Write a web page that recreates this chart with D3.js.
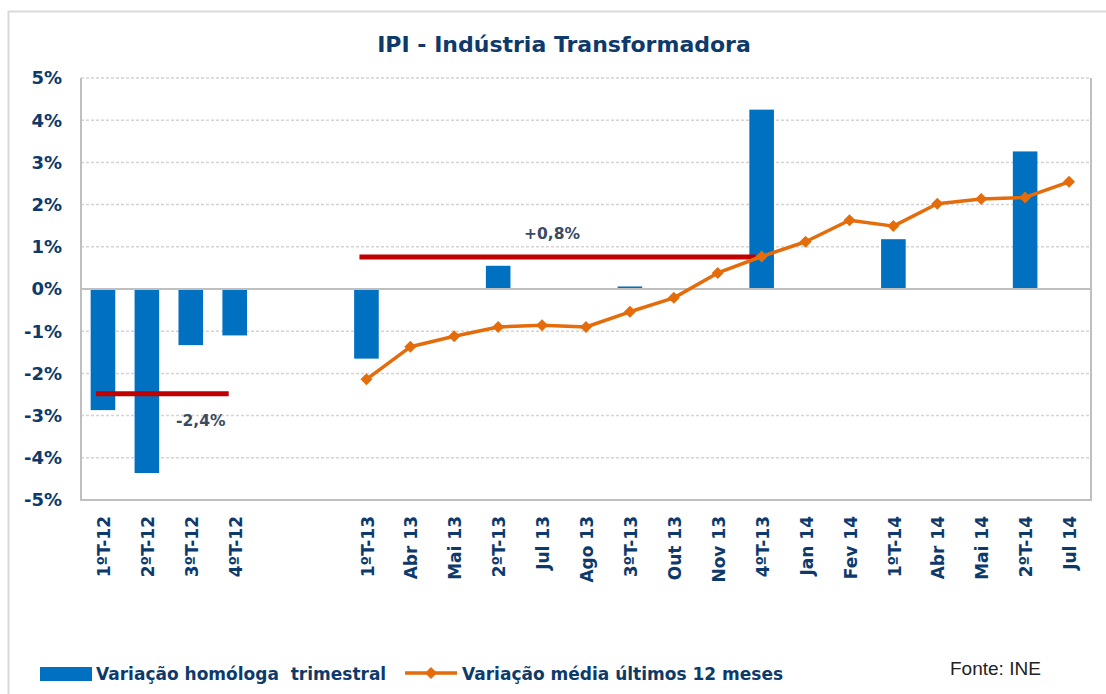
<!DOCTYPE html>
<html><head><meta charset="utf-8">
<script src="https://cdn.jsdelivr.net/npm/d3@7"></script>
<style>body{margin:0;background:#fff}svg{display:block}</style>
</head><body><svg id="c" width="1106" height="694"></svg>
<script>
const categories = ["1ºT-12","2ºT-12","3ºT-12","4ºT-12","","","1ºT-13","Abr 13","Mai 13","2ºT-13","Jul 13","Ago 13","3ºT-13","Out 13","Nov 13","4ºT-13","Jan 14","Fev 14","1ºT-14","Abr 14","Mai 14","2ºT-14","Jul 14"];
const quarterlyValues = [-2.87,-4.36,-1.33,-1.10,null,null,-1.65,null,null,0.55,null,null,0.06,null,null,4.25,null,null,1.18,null,null,3.26,null];
const avg12Values = [null,null,null,null,null,null,-2.14,-1.37,-1.12,-0.90,-0.86,-0.90,-0.54,-0.21,0.38,0.77,1.12,1.63,1.49,2.02,2.13,2.17,2.54];
const yTicks = [-5,-4,-3,-2,-1,0,1,2,3,4,5];
const periodAvgStart = ["1ºT-12","1ºT-13"];
const periodAvgEnd = ["4ºT-12","4ºT-13"];
const periodAvgValues = [-2.48, 0.76];
const periodAvgLabels = ["-2,4%","+0,8%"];
const periodAvgLabelCat = ["3ºT-12","Jul 13"];
const periodAvgLabelValue = [-3.25, 1.18];
const titleText = "IPI - Indústria Transformadora";
const legendLabels = ["Variação homóloga  trimestral","Variação média últimos 12 meses"];
const sourceText = "Fonte: INE";

const svg = d3.select("#c");
const F = "'DejaVu Sans', Verdana, sans-serif";
const textCol = "#0d3a6b";
const blue = "#0070C0", orange = "#E46C0A", red = "#C00000", grid = "#d4d4d4", axisCol = "#bfbfbf";
const L = 81, R = 1091, T = 78, B = 500;

// outer frame
svg.append("path").attr("d","M8.5,700 V11.5 H1110").attr("fill","none").attr("stroke","#d9d9d9").attr("stroke-width",2);

const x = d3.scaleBand().domain(d3.range(categories.length)).range([L,R]).padding(0);
const y = d3.scaleLinear().domain([-5,5]).range([B,T]);
const cx = i => x(i) + x.bandwidth()/2;
const idx = c => categories.indexOf(c);

// gridlines
svg.append("g").selectAll("line").data(yTicks.filter(t=>t!==0 && t!==-5)).join("line")
  .attr("x1",L).attr("x2",R).attr("y1",d=>y(d)).attr("y2",d=>y(d))
  .attr("stroke",grid).attr("stroke-width",1.5).attr("stroke-dasharray","3,2");

// bars
const bw = x.bandwidth()*0.56;
svg.append("g").selectAll("rect").data(quarterlyValues.map((v,i)=>({v,i})).filter(d=>d.v!==null)).join("rect")
  .attr("x",d=>cx(d.i)-bw/2).attr("width",bw)
  .attr("y",d=>y(Math.max(0,d.v))).attr("height",d=>Math.abs(y(d.v)-y(0)))
  .attr("fill",blue);

// zero line
svg.append("line").attr("x1",L).attr("x2",R).attr("y1",y(0)).attr("y2",y(0)).attr("stroke",axisCol).attr("stroke-width",2);
// plot frame (left, bottom, right)
svg.append("path").attr("d",`M${L},${T} V${B} H${R} V${T}`).attr("fill","none").attr("stroke",axisCol).attr("stroke-width",2);

// period average lines
periodAvgValues.forEach((v,k)=>{
  svg.append("line").attr("x1",cx(idx(periodAvgStart[k]))-7).attr("x2",cx(idx(periodAvgEnd[k]))-6)
    .attr("y1",y(v)).attr("y2",y(v)).attr("stroke",red).attr("stroke-width",5);
  svg.append("text").attr("x",cx(idx(periodAvgLabelCat[k]))+10).attr("y",y(periodAvgLabelValue[k]))
    .attr("text-anchor","middle").attr("font-family",F).attr("font-weight","bold").attr("font-size",15.5)
    .attr("fill","#3b4a63").text(periodAvgLabels[k]);
});

// 12-month average line
const pts = avg12Values.map((v,i)=>({v,i})).filter(d=>d.v!==null);
svg.append("path").datum(pts).attr("d",d3.line().x(d=>cx(d.i)).y(d=>y(d.v)))
  .attr("fill","none").attr("stroke",orange).attr("stroke-width",3.5).attr("stroke-linejoin","round");
const diamond = "M0,-6L6,0L0,6L-6,0Z";
svg.append("g").selectAll("path").data(pts).join("path")
  .attr("transform",d=>`translate(${cx(d.i)},${y(d.v)})`).attr("d",diamond).attr("fill",orange);

// y axis labels
svg.append("g").selectAll("text").data(yTicks).join("text")
  .attr("x",62).attr("y",d=>y(d)).attr("dy","0.36em").attr("text-anchor","end")
  .attr("font-family",F).attr("font-weight","bold").attr("font-size",18).attr("fill",textCol)
  .text(d=>d+"%");

// x axis labels
svg.append("g").selectAll("text").data(categories.map((c,i)=>({c,i})).filter(d=>d.c!=="")).join("text")
  .attr("transform",d=>`translate(${cx(d.i)+1},516) rotate(-90)`).attr("dy","0.36em").attr("text-anchor","end")
  .attr("font-family",F).attr("font-weight","bold").attr("font-size",17).attr("fill",textCol)
  .text(d=>d.c);

// title
svg.append("text").attr("x",564).attr("y",52).attr("text-anchor","middle")
  .attr("font-family",F).attr("font-weight","bold").attr("font-size",22).attr("fill",textCol).text(titleText);

// legend
svg.append("rect").attr("x",40).attr("y",667).attr("width",52).attr("height",14).attr("fill",blue);
svg.append("text").attr("x",96).attr("y",680).attr("font-family",F).attr("font-weight","bold").attr("font-size",17).attr("fill",textCol)
  .attr("xml:space","preserve").style("white-space","pre").text(legendLabels[0]);
svg.append("line").attr("x1",405).attr("x2",457).attr("y1",673).attr("y2",673).attr("stroke",orange).attr("stroke-width",3.5);
svg.append("path").attr("transform","translate(431,673)").attr("d",diamond).attr("fill",orange);
svg.append("text").attr("x",462).attr("y",680).attr("font-family",F).attr("font-weight","bold").attr("font-size",17).attr("fill",textCol).text(legendLabels[1]);
svg.append("text").attr("x",950).attr("y",675).attr("font-family","'Liberation Sans Narrow','Liberation Sans',sans-serif").attr("font-size",19).attr("fill","#222").text(sourceText);
</script></body></html>
